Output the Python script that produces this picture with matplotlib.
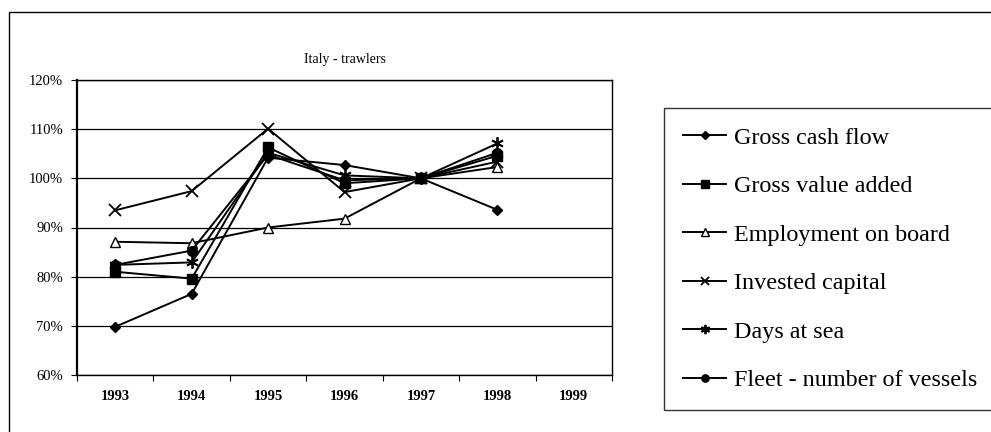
import matplotlib
matplotlib.use("Agg")
import matplotlib.pyplot as plt
from matplotlib.patches import Rectangle

plt.rcParams['font.family'] = ['Liberation Serif', 'DejaVu Serif']

# index values (%), 1997 = 100; no data for 1999
years = ["1993", "1994", "1995", "1996", "1997", "1998", "1999"]
gross_cash_flow = [69.8, 76.5, 104.2, 102.7, 100.0, 93.6]
gross_value_added = [81.0, 79.6, 106.3, 99.0, 100.0, 104.6]
employment_on_board = [87.1, 86.8, 90.0, 91.8, 100.0, 102.3]
invested_capital = [93.5, 97.4, 110.1, 97.2, 100.0, 103.4]
days_at_sea = [82.4, 82.9, 105.2, 100.6, 100.0, 107.1]
fleet_vessels = [82.4, 85.3, 104.8, 99.6, 100.0, 105.2]

series = [
    ("Gross cash flow", gross_cash_flow, dict(marker="D", ms=5.5, mfc="black")),
    ("Gross value added", gross_value_added, dict(marker="s", ms=7, mfc="black")),
    ("Employment on board", employment_on_board, dict(marker="^", ms=7, mfc="white")),
    ("Invested capital", invested_capital, dict(marker="x", ms=8, mew=1.3)),
    ("Days at sea", days_at_sea, dict(marker=(6, 2, 0), ms=9, mew=1.3)),
    ("Fleet - number of vessels", fleet_vessels, dict(marker="o", ms=7, mfc="black")),
]

fig = plt.figure(figsize=(9.91, 4.32), dpi=100)
ax = fig.add_axes([77 / 991, 1 - 375 / 432, 535 / 991, 295 / 432])

# outer chart frame
fig.patches.append(Rectangle((9 / 991, -0.2), 1.2, 1.2 - 12 / 432,
                             transform=fig.transFigure, fill=False,
                             edgecolor="black", lw=1.0))

pos = list(range(1, len(years) + 1))
handles = []
for name, vals, style in series:
    h, = ax.plot(pos[:len(vals)], vals, color="black", lw=1.4,
                 mec="black", label=name, **style)
    handles.append(h)

ax.set_xlim(0.5, len(years) + 0.5)
ax.set_ylim(60, 120)
ax.set_yticks(range(60, 121, 10))
ax.set_yticklabels([f"{v}%" for v in range(60, 121, 10)], fontsize=10.5)
ax.yaxis.grid(True, color="black", lw=0.9)
ax.set_axisbelow(True)

ax.set_xticks([p + 0.5 for p in range(0, len(years) + 1)])
ax.set_xticklabels([])
ax.set_xticks(pos, minor=True)
ax.set_xticklabels(years, minor=True, fontsize=10.5, fontweight="bold")
ax.tick_params(axis="x", which="minor", length=0, pad=11)
ax.tick_params(axis="x", which="major", length=4, direction="out", width=0.8)
ax.tick_params(axis="y", length=4, direction="out", width=0.8, pad=6)

for side in ["top", "right", "bottom"]:
    ax.spines[side].set_linewidth(1.0)
ax.spines["left"].set_linewidth(1.6)

fig.text(345 / 991, 1 - 60 / 432, "Italy - trawlers", ha="center",
         va="center", fontsize=10)

leg = fig.legend(handles=handles, loc="upper left",
                 bbox_to_anchor=(664 / 991, 1 - 108 / 432),
                 fontsize=17.4, frameon=True, fancybox=False,
                 edgecolor="black", labelspacing=1.1, handlelength=1.8,
                 handletextpad=0.33, borderpad=0.78, markerscale=0.75,
                 borderaxespad=0)
leg.get_frame().set_linewidth(1.0)

fig.savefig("out.png", dpi=100)
